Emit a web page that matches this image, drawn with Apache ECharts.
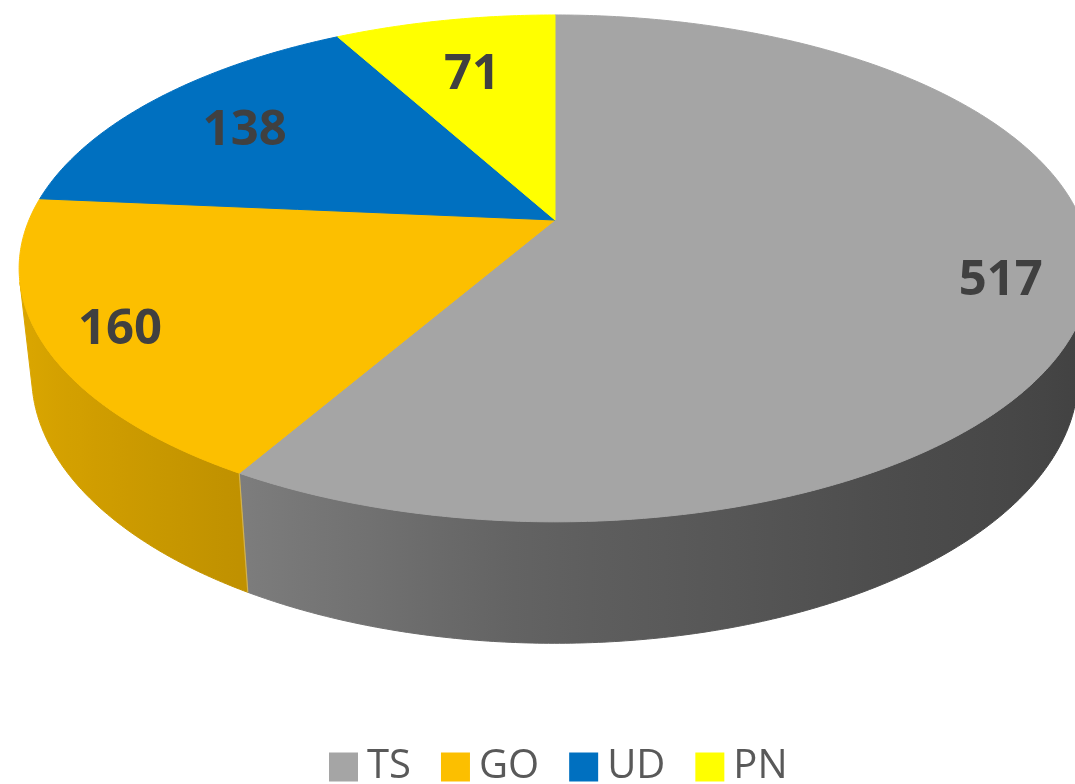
<!DOCTYPE html>
<html>
<head>
<meta charset="utf-8">
<script src="https://cdn.jsdelivr.net/npm/echarts@6/dist/echarts.min.js"></script>
<style>
  html, body { margin: 0; padding: 0; background: #ffffff; }
  #chart { width: 1075px; height: 784px; }
</style>
</head>
<body>
<div id="chart"></div>
<script>
// Category counts shown as a tilted 3D pie
const categories = ['TS', 'GO', 'UD', 'PN'];
const counts = [517, 160, 138, 71];
const sliceColors = ['#a5a5a5', '#fcbf00', '#0070c0', '#ffff00'];

// Camera / disc geometry for the perspective projection
const view = { cx: 555, cy: 220, scale: 526, tilt: 27.66, dist: 4.637, depth: 0.232 };
const tiltRad = view.tilt * Math.PI / 180;
const sinT = Math.sin(tiltRad), cosT = Math.cos(tiltRad);

// Outer wall faces the camera only where cos(theta) is below this limit
const wallLimit = -1 / (view.dist * cosT);
const visFrom = Math.acos(wallLimit);
const visTo = 2 * Math.PI - visFrom;

// theta: clockwise from 12 o'clock; r: fraction of radius; h: 0 top, -depth bottom
function project(r, theta, h) {
  const u = r * Math.sin(theta), v = r * Math.cos(theta);
  const w = 1 + (v * cosT - h * sinT) / view.dist;
  return [view.cx + view.scale * u / w, view.cy - view.scale * (v * sinT + h * cosT) / w];
}

function hexToRgb(hex) {
  const n = parseInt(hex.slice(1), 16);
  return [(n >> 16) & 255, (n >> 8) & 255, n & 255];
}

// Side lighting from the front left: brightness against the wall's sideways normal
const shadeCurve = [[-1, 0.88], [-0.5, 0.76], [-0.25, 0.67], [0, 0.58], [0.5, 0.47], [1, 0.39]];
function wallShade(hex, theta) {
  const u = Math.sin(theta);
  let f = shadeCurve[shadeCurve.length - 1][1];
  for (let k = 0; k < shadeCurve.length - 1; k++) {
    const p = shadeCurve[k], q = shadeCurve[k + 1];
    if (u <= q[0]) { f = p[1] + (q[1] - p[1]) * (u - p[0]) / (q[0] - p[0]); break; }
  }
  const c = hexToRgb(hex).map(x => Math.max(0, Math.min(255, Math.round(x * f))));
  return 'rgb(' + c.join(',') + ')';
}

const total = counts.reduce((a, b) => a + b, 0);

function sliceRenderer(idx) {
  return function (params, api) {
    let before = 0;
    for (let k = 0; k < idx; k++) before += counts[k];
    const value = api.value(0);
    const a0 = before / total * 2 * Math.PI;
    const a1 = (before + value) / total * 2 * Math.PI;
    const base = sliceColors[idx];
    const children = [];

    // top face
    const topPts = [project(0, 0, 0)];
    const n = Math.max(2, Math.ceil((a1 - a0) / (Math.PI / 360)));
    for (let s = 0; s <= n; s++) topPts.push(project(1, a0 + (a1 - a0) * s / n, 0));
    children.push({
      type: 'polygon', z2: 5,
      shape: { points: topPts },
      style: { fill: base, stroke: base, lineWidth: 1, lineJoin: 'round' }
    });

    // visible outer wall
    const w0 = Math.max(a0, visFrom), w1 = Math.min(a1, visTo);
    if (w1 > w0) {
      const m = Math.max(2, Math.ceil((w1 - w0) / (Math.PI / 360)));
      const upper = [], lower = [];
      for (let s = 0; s <= m; s++) {
        const t = w0 + (w1 - w0) * s / m;
        upper.push(project(1, t, 0));
        lower.push(project(1, t, -view.depth));
      }
      const xa = upper[0][0], xb = upper[m][0];
      const xmin = Math.min(xa, xb), xmax = Math.max(xa, xb);
      const stops = [];
      const ns = 16;
      for (let s = 0; s <= ns; s++) {
        const t = w0 + (w1 - w0) * s / ns;
        const x = project(1, t, 0)[0];
        stops.push({ offset: (x - xmin) / (xmax - xmin || 1), color: wallShade(base, t) });
      }
      stops.sort((p, q) => p.offset - q.offset);
      stops[0].offset = 0;
      stops[stops.length - 1].offset = 1;
      const grad = new echarts.graphic.LinearGradient(xmin, 0, xmax, 0, stops, true);
      children.push({
        type: 'polygon', z2: 1,
        shape: { points: upper.concat(lower.reverse()) },
        style: { fill: grad, stroke: grad, lineWidth: 1, lineJoin: 'round' }
      });
      if (a0 > visFrom && a0 < visTo) {
        const pt = project(1, a0, 0), pb = project(1, a0, -view.depth);
        children.push({
          type: 'line', z2: 3,
          shape: { x1: pt[0], y1: pt[1], x2: pb[0], y2: pb[1] },
          style: { stroke: 'rgba(255,255,255,0.3)', lineWidth: 1.2 }
        });
      }
    }

    // value label on the top face
    const mid = (a0 + a1) / 2;
    const rl = 0.815 - 0.1 * Math.cos(mid);
    const lp = project(rl, mid, 0);
    children.push({
      type: 'text', z2: 10,
      x: lp[0], y: lp[1] + 5,
      style: {
        text: String(value),
        fill: '#404040',
        fontFamily: 'Open Sans',
        fontWeight: 'bold',
        fontSize: 49,
        align: 'center',
        verticalAlign: 'middle'
      }
    });

    return { type: 'group', children: children };
  };
}

const chart = echarts.init(document.getElementById('chart'), null, { renderer: 'canvas' });

chart.setOption({
  animation: false,
  backgroundColor: '#ffffff',
  legend: {
    data: categories,
    top: 747,
    left: 329,
    padding: 0,
    itemWidth: 29,
    itemHeight: 29,
    itemGap: 30,
    icon: 'rect',
    textStyle: {
      fontFamily: 'Open Sans',
      fontSize: 40,
      lineHeight: 29,
      color: '#595959',
      padding: [0, 0, 0, 4]
    }
  },
  series: categories.map((name, i) => ({
    type: 'custom',
    name: name,
    coordinateSystem: 'none',
    itemStyle: { color: sliceColors[i] },
    data: [counts[i]],
    renderItem: sliceRenderer(i)
  }))
});
</script>
</body>
</html>
